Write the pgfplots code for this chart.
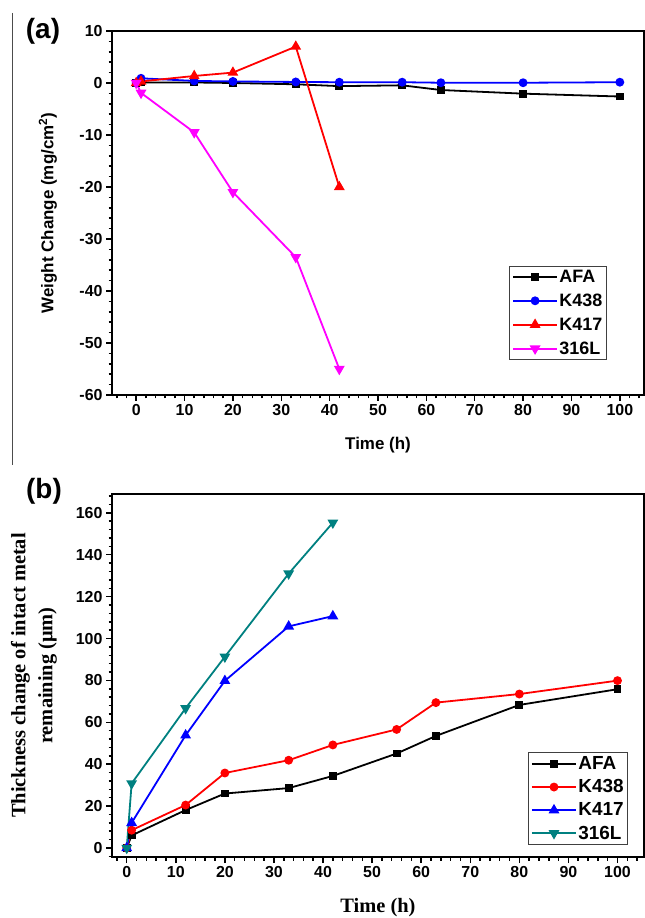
\documentclass[border=0pt]{standalone}
\usepackage{pgfplots}
\pgfplotsset{compat=1.18}
\usepackage{fontspec}
\setmainfont{Liberation Sans}
\newfontfamily\timesfont{Liberation Serif}
\definecolor{tealc}{RGB}{0,128,128}
\definecolor{magc}{RGB}{255,0,255}

\pgfplotsset{
  panel/.style={
    scale only axis, width=532bp, anchor=south west,
    axis line style={line width=1.8bp},
    tick align=outside, tick pos=left,
    major tick length=6bp, minor tick length=3.5bp,
    every tick/.style={black, line width=1.5bp},
    /pgf/number format/assume math mode=true,
    tick label style={font=\fontsize{16}{18}\selectfont\bfseries},
    xtick={0,10,...,100},
    legend cell align=left,
    every axis plot/.append style={line width=1.8bp},
    legend image code/.code={\draw[mark repeat=2,mark phase=2] plot coordinates {(0bp,0bp) (22bp,0bp) (44bp,0bp)};},
  },
}

\begin{document}
\begin{tikzpicture}
\useasboundingbox (0,0) rectangle (645bp,918bp);
\draw[line width=1bp, black!70] (12bp,905bp) -- (12bp,453bp);
\node[font=\fontsize{28}{32}\selectfont\bfseries] at (43bp,887bp) {(a)};
\node[font=\fontsize{28}{32}\selectfont\bfseries] at (44bp,427bp) {(b)};

% (a) weight change
\begin{axis}[panel, at={(112bp,523bp)}, height=364bp,
    xmin=-5, xmax=105, ymin=-60, ymax=10,
    ytick={-60,-50,...,10},
    minor xtick={-4,-2,...,104}, minor ytick={-58,-56,...,8},
    every axis y label/.style={at={([xshift=-64bp]rel axis cs:0,0.5)}, rotate=90, anchor=center},
    every axis x label/.style={at={([yshift=-50bp]rel axis cs:0.5,0)}, anchor=center},
    label style={font=\fontsize{17}{20}\selectfont\bfseries},
    ylabel={Weight Change (mg/cm\textsuperscript{2})},
    xlabel={Time (h)},
    legend style={at={(0.93,0.096)}, anchor=south east, draw=black!75, line width=0.8bp,
      font=\fontsize{18}{20}\selectfont\bfseries, row sep=7bp, inner sep=2.5bp,
      nodes={inner sep=1.5bp}},
]
\addplot[black, mark=square*, mark size=3bp] coordinates {
  (0,0) (1,0.1) (12,0.1) (20,0) (33,-0.25) (42,-0.6) (55,-0.45) (63,-1.35) (80,-2.05) (100,-2.6)};
\addplot[blue, mark=*, mark size=3.5bp] coordinates {
  (0,0) (1,0.9) (12,0.4) (20,0.3) (33,0.2) (42,0.15) (55,0.15) (63,0.05) (80,0.05) (100,0.15)};
\addplot[red, mark=triangle*, mark size=4.5bp] coordinates {
  (0,0) (1,0.3) (12,1.35) (20,2.0) (33,7.0) (42,-20)};
\addplot[magc, mark=triangle*, mark size=4.5bp, mark options={rotate=180}] coordinates {
  (0,0) (1,-1.9) (12,-9.5) (20,-21) (33,-33.5) (42,-55)};
\legend{AFA,K438,K417,316L}
\end{axis}

% (b) thickness change
\begin{axis}[panel, at={(112bp,61bp)}, height=363bp,
    xmin=-3, xmax=105.4, ymin=-4.3, ymax=169,
    ytick={0,20,...,160},
    minor xtick={-2,0,...,104}, minor ytick={-4,0,...,168},
    every axis y label/.style={at={([xshift=-78bp]rel axis cs:0,0.5)}, rotate=90, anchor=center, align=center},
    every axis x label/.style={at={([yshift=-51bp]rel axis cs:0.5,0)}, anchor=center},
    label style={font=\fontsize{20.5}{27}\timesfont\bfseries},
    ylabel={Thickness change of intact metal\\remaining (μm)},
    xlabel={Time (h)},
    legend style={at={(0.97,0.033)}, anchor=south east, draw=black!75, line width=0.8bp,
      font=\fontsize{19}{21}\selectfont\bfseries, row sep=5.5bp, inner sep=2.5bp,
      nodes={inner sep=1.5bp}},
]
\addplot[black, mark=square*, mark size=3bp] coordinates {
  (0,0) (1,6) (12,18.1) (20,26) (33,28.6) (42,34.4) (55,45.1) (63,53.5) (80,68.3) (100,75.8)};
\addplot[red, mark=*, mark size=3.5bp] coordinates {
  (0,0) (1,8.5) (12,20.5) (20,35.8) (33,41.9) (42,49.2) (55,56.6) (63,69.4) (80,73.5) (100,79.9)};
\addplot[blue, mark=triangle*, mark size=4.5bp] coordinates {
  (0,0) (1,12) (12,53.8) (20,79.8) (33,105.8) (42,110.7)};
\addplot[tealc, mark=triangle*, mark size=4.5bp, mark options={rotate=180}] coordinates {
  (0,0) (1,30.8) (12,66.7) (20,91.3) (33,131) (42,155.3)};
\legend{AFA,K438,K417,316L}
\end{axis}
\end{tikzpicture}
\end{document}
